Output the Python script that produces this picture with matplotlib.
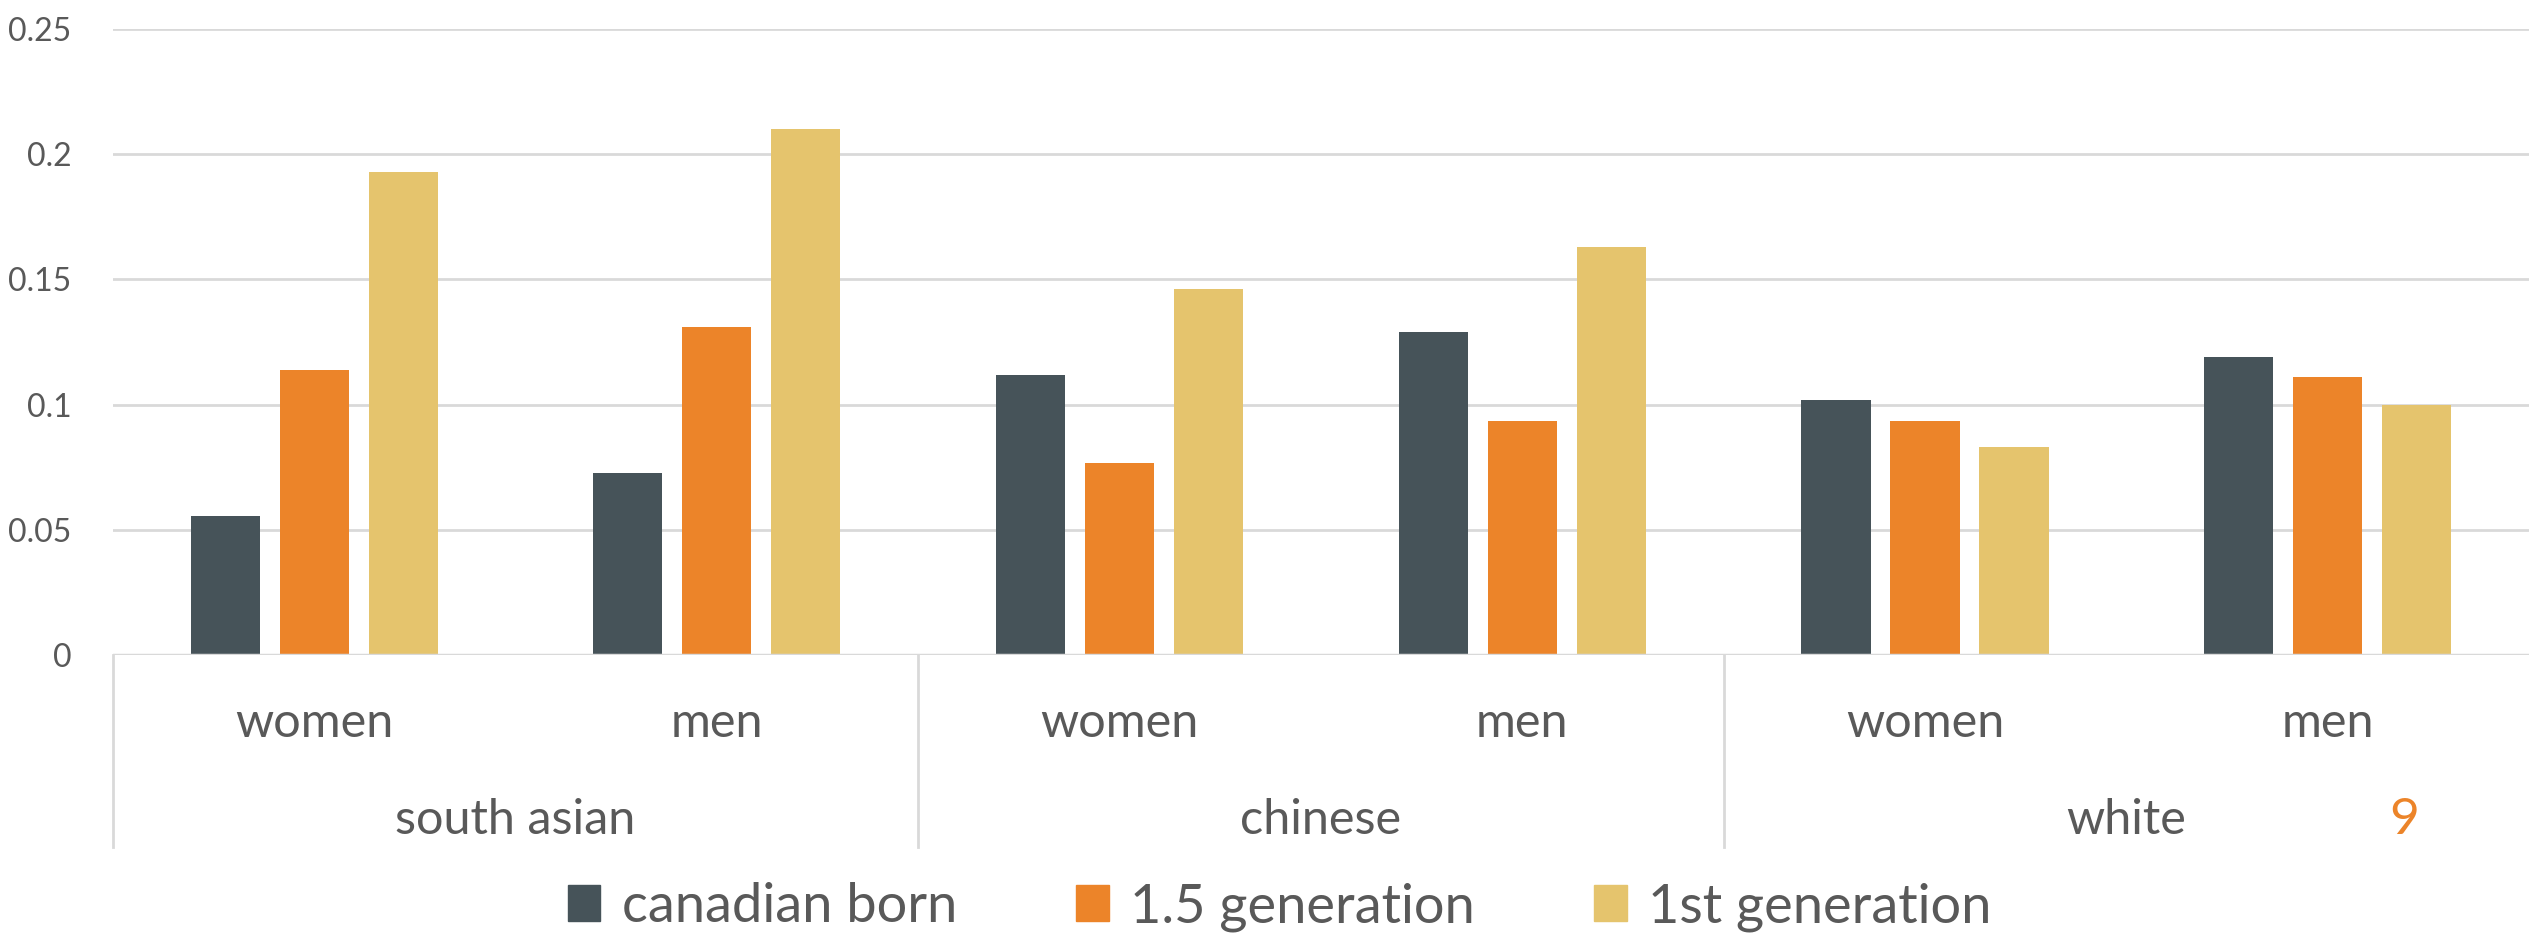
import matplotlib
matplotlib.use('Agg')
import matplotlib.pyplot as plt
import matplotlib.transforms as mtransforms
from matplotlib.patches import Patch
import numpy as np

plt.rcParams['font.family'] = ['Lato', 'DejaVu Sans']

groups = ['south asian', 'chinese', 'white']
sexes = ['women', 'men']
series = ['canadian born', '1.5 generation', '1st generation']
canadian_born = [0.0555, 0.0728, 0.112, 0.129, 0.102, 0.119]
gen_1_5 = [0.114, 0.131, 0.0767, 0.0934, 0.0934, 0.111]
gen_1st = [0.193, 0.210, 0.146, 0.163, 0.0831, 0.100]
colors = ['#465359', '#EC8429', '#E5C46D']
txt = '#595959'
grid = '#D9D9D9'

fig = plt.figure(figsize=(25.29, 9.41), dpi=100)
ax = fig.add_axes([0.0446, 0.304, 0.9554, 0.665])

x = np.arange(6) + 0.5
w = 0.172
off = 0.221
for k, vals in enumerate([canadian_born, gen_1_5, gen_1st]):
    ax.bar(x + (k - 1) * off, vals, w, color=colors[k], zorder=3)

ax.set_xlim(0, 6)
ax.set_ylim(0, 0.25)
ax.set_yticks([0, 0.05, 0.1, 0.15, 0.2, 0.25])
ax.set_yticklabels(['0', '0.05', '0.1', '0.15', '0.2', '0.25'])
ax.tick_params(axis='y', length=0, pad=30, labelsize=23, labelcolor=txt)
ax.set_xticks([])
ax.grid(axis='y', color=grid, linewidth=2, zorder=0)
for s in ax.spines.values():
    s.set_visible(False)
ax.axhline(0, color=grid, linewidth=2.5, zorder=4)

# two-level category axis
trans = mtransforms.blended_transform_factory(ax.transData, fig.transFigure)
for i in range(6):
    fig.text(x[i], 0.232, sexes[i % 2], transform=trans, fontsize=35,
             color=txt, ha='center', va='center')
for g in range(3):
    fig.text(2 * g + 1, 0.129, groups[g], transform=trans, fontsize=35,
             color=txt, ha='center', va='center')
    fig.add_artist(plt.Line2D([2 * g, 2 * g], [0.304, 0.100], transform=trans,
                              color=grid, linewidth=2))

# page number
fig.text(0.9505, 0.129, '9', fontsize=37, color='#EC8429', ha='center', va='center')

handles = [Patch(color=c, label=l) for c, l in zip(colors, series)]
fig.legend(handles=handles, loc='center', bbox_to_anchor=(0.506, 0.036), ncol=3,
           frameon=False, fontsize=39, labelcolor=txt, handlelength=0.6,
           handleheight=0.65, handletextpad=0.4, columnspacing=2.2)

fig.savefig('out.png', dpi=100)
